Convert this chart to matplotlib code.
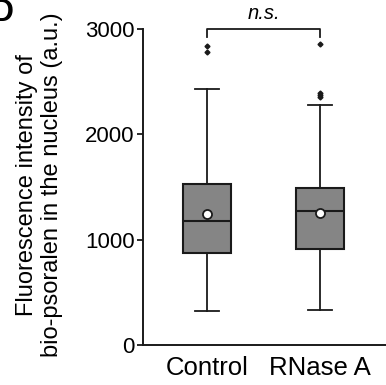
import matplotlib
matplotlib.use("Agg")
import matplotlib.pyplot as plt

plt.rcParams["font.family"] = ["Liberation Sans", "DejaVu Sans"]

# valeurs
groups = ["Control", "RNase A"]
q1 = [871, 915]
med = [1177, 1275]
q3 = [1531, 1488]
whislo = [326, 332]
whishi = [2430, 2282]
means = [1247, 1250]
fliers = [[2842, 2779], [2861, 2395, 2375, 2355]]
yticks = [0, 1000, 2000, 3000]

stats = []
for i, g in enumerate(groups):
    stats.append(dict(label=g, q1=q1[i], med=med[i], q3=q3[i],
                      whislo=whislo[i], whishi=whishi[i],
                      mean=means[i], fliers=fliers[i]))

fig = plt.figure(figsize=(3.86, 3.85), dpi=100)
ax = fig.add_axes([0.370, 0.104, 0.630, 0.821])

dark = "#1a1a1a"
ax.bxp(stats, positions=[1, 2], widths=0.42, patch_artist=True,
       showmeans=True, showfliers=True,
       boxprops=dict(facecolor="#858585", edgecolor=dark, linewidth=1.5),
       medianprops=dict(color=dark, linewidth=1.5),
       whiskerprops=dict(color=dark, linewidth=1.3),
       capprops=dict(color=dark, linewidth=1.3),
       capwidths=0.21,
       meanprops=dict(marker="o", markerfacecolor="white",
                      markeredgecolor=dark, markersize=6.5, markeredgewidth=1.3),
       flierprops=dict(marker="D", markerfacecolor=dark, markeredgecolor=dark,
                       markersize=2.5))

ax.set_xlim(0.435, 2.58)
ax.set_ylim(0, 3000)
ax.set_yticks(yticks)
ax.tick_params(axis="y", labelsize=16, length=4, width=1.3, pad=2,
               color=dark)
ax.tick_params(axis="x", labelsize=18.5, length=0, pad=8)
for s in ["top", "right"]:
    ax.spines[s].set_visible(False)
for s in ["left", "bottom"]:
    ax.spines[s].set_linewidth(1.4)
    ax.spines[s].set_color(dark)

ax.set_ylabel("Fluorescence intensity of\nbio-psoralen in the nucleus (a.u.)",
              fontsize=17, linespacing=1.15)
ax.yaxis.set_label_coords(-0.33, 0.506)

# crochet de significativite
ax.plot([1, 1, 2, 2], [2925, 3000, 3000, 2925], color=dark, lw=1.3,
        clip_on=False)
ax.text(1.5, 3060, "n.s.", ha="center", va="bottom", fontsize=14.5,
        style="italic")

# lettre du panneau (coupee a gauche)
fig.text(-0.02, 1.005, "D", fontsize=22, fontweight="bold", ha="left",
         va="top")

fig.savefig("out.png", dpi=100)
